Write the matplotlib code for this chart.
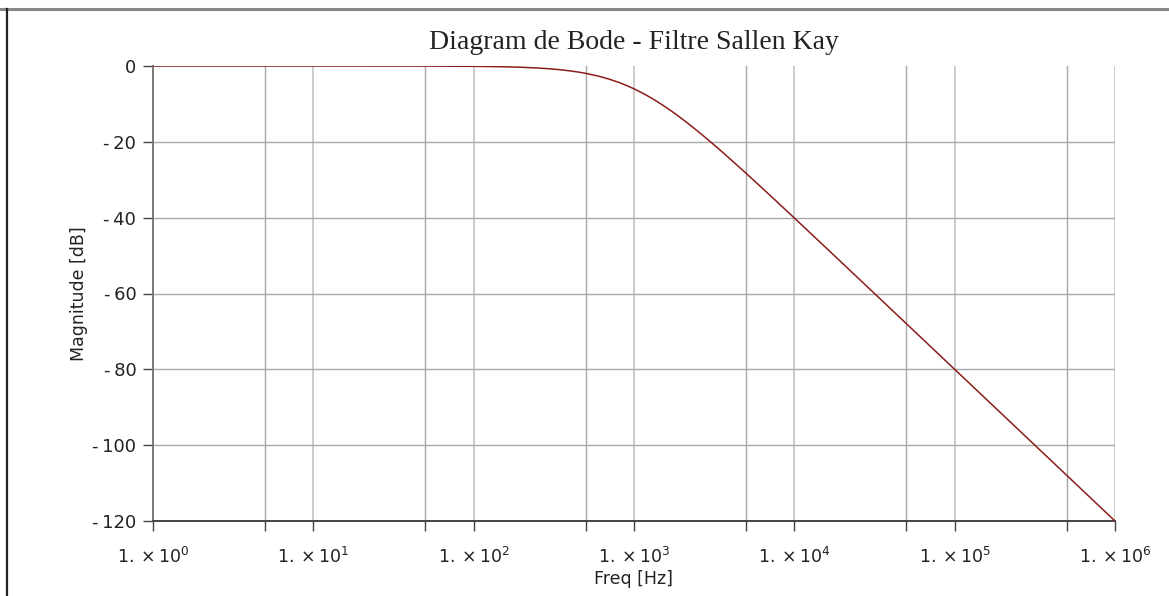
import matplotlib.pyplot as plt
import numpy as np
from matplotlib.lines import Line2D

plt.rcParams['mathtext.fontset'] = 'dejavusans'

# values (Sallen-Key low-pass, magnitude in dB)
freq = [1, 10, 50, 100, 150, 200, 250, 300, 350, 400, 450, 500, 600, 700, 800,
        900, 1000, 1100, 1200, 1300, 1400, 1500, 1600, 1700, 1800, 1900, 2000,
        2200, 2500, 2700, 3000, 3500, 4000, 5000, 6000, 7000, 8000, 10000,
        15000, 20000, 30000, 50000, 100000, 1000000]
mag_db = [0.0, -0.001, -0.022, -0.086, -0.193, -0.341, -0.527, -0.749, -1.004,
          -1.289, -1.602, -1.938, -2.671, -3.464, -4.297, -5.154, -6.021,
          -6.888, -7.747, -8.595, -9.426, -10.238, -11.029, -11.799, -12.547,
          -13.274, -13.979, -15.328, -17.207, -18.371, -20.0, -22.444, -24.609,
          -28.299, -31.364, -33.979, -36.258, -40.086, -47.082, -52.062,
          -59.094, -67.96, -80.001, -120.0]

x_major = [1, 10, 100, 1000, 10000, 100000, 1000000]
x_minor = [5, 50, 500, 5000, 50000, 500000]
y_ticks = [0, -20, -40, -60, -80, -100, -120]

fig = plt.figure(figsize=(11.69, 5.96), dpi=100)
ax = fig.add_axes([153/1169, 1 - 521/596, (1115 - 153)/1169, (521 - 66)/596])

ax.plot(freq, mag_db, color='#8b1c1c', lw=1.1, zorder=3)
ax.set_xscale('log')
ax.set_xlim(1, 1e6)
ax.set_ylim(-120, 0)

for xv in x_minor:
    ax.axvline(xv, color='#a8a8a8', lw=1.0, zorder=1)
for xv in x_major[1:]:
    ax.axvline(xv, color='#cccccc', lw=1.4, zorder=1)
for yv in y_ticks[1:-1]:
    ax.axhline(yv, color='#a8a8a8', lw=1.0, zorder=1)

ax.xaxis.set_major_locator(plt.FixedLocator(x_major + x_minor))
ax.xaxis.set_minor_locator(plt.NullLocator())
ax.set_xticklabels([r'$1.\times10^{%d}$' % int(np.log10(v)) for v in x_major] + [''] * len(x_minor))
ax.set_yticks(y_ticks)
ax.set_yticklabels(['0'] + ['-\u2009%d' % abs(v) for v in y_ticks[1:]])

ax.tick_params(axis='x', direction='out', length=7, width=1, color='#444444',
               labelsize=12.5, pad=12, labelcolor='#222222')
ax.tick_params(axis='y', direction='out', length=7, width=1, color='#444444',
               labelsize=13, pad=5, labelcolor='#222222')

for s in ['top', 'right']:
    ax.spines[s].set_visible(False)
ax.spines['left'].set_color('#777777')
ax.spines['left'].set_linewidth(1.4)
ax.spines['bottom'].set_color('#444444')
ax.spines['bottom'].set_linewidth(1.4)

ax.set_title('Diagram de Bode - Filtre Sallen Kay', family='Liberation Serif',
             fontsize=20, color='#222222', pad=12)
ax.set_xlabel('Freq [Hz]', fontsize=12.5, color='#222222', labelpad=2)
ax.set_ylabel('Magnitude [dB]', fontsize=12.5, color='#222222', labelpad=3)

# frame lines of the exported image
fig.add_artist(Line2D([0, 1], [1 - 8.5/596, 1 - 8.5/596], color='#888888', lw=2.2))
fig.add_artist(Line2D([6.5/1169, 6.5/1169], [0, 1 - 8.5/596], color='#222222', lw=1.6))

plt.savefig('out.png', dpi=100)
